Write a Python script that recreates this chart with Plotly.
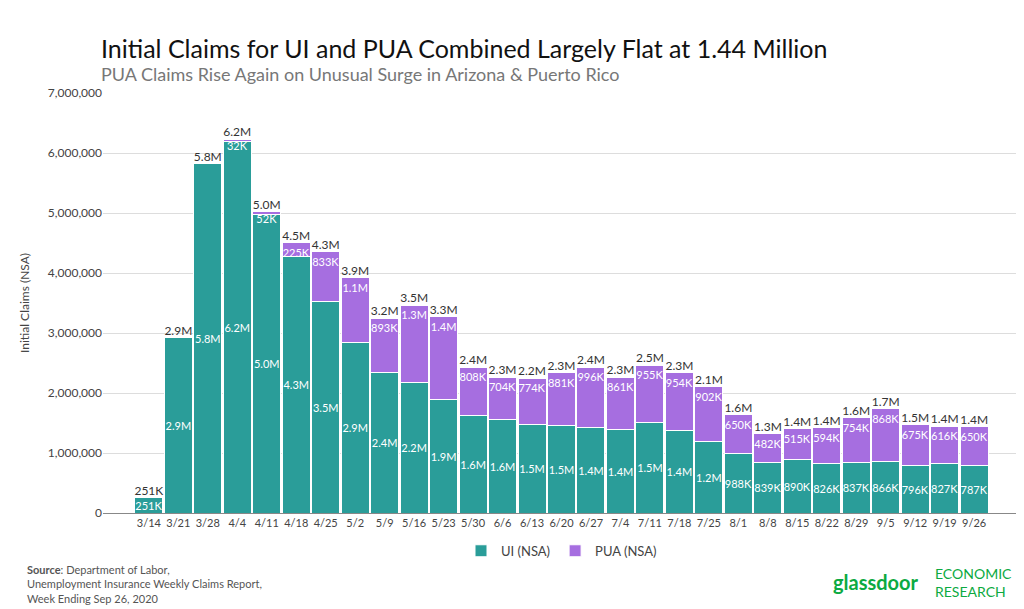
import plotly.graph_objects as go

weeks = ["3/14","3/21","3/28","4/4","4/11","4/18","4/25","5/2","5/9","5/16","5/23","5/30","6/6","6/13",
         "6/20","6/27","7/4","7/11","7/18","7/25","8/1","8/8","8/15","8/22","8/29","9/5","9/12","9/19","9/26"]
ui = [251000,2920000,5820000,6200000,4970000,4280000,3520000,2850000,2350000,2170000,1900000,1620000,1560000,
      1470000,1460000,1430000,1400000,1510000,1380000,1200000,988000,839000,890000,826000,837000,866000,796000,827000,787000]
pua = [0,0,0,32000,52000,225000,833000,1070000,893000,1290000,1370000,808000,704000,774000,881000,996000,861000,
       955000,954000,902000,650000,482000,515000,594000,754000,868000,675000,616000,650000]
ui_lbl = ["251K","2.9M","5.8M","6.2M","5.0M","4.3M","3.5M","2.9M","2.4M","2.2M","1.9M","1.6M","1.6M","1.5M","1.5M",
          "1.4M","1.4M","1.5M","1.4M","1.2M","988K","839K","890K","826K","837K","866K","796K","827K","787K"]
pua_lbl = ["","","","32K","52K","225K","833K","1.1M","893K","1.3M","1.4M","808K","704K","774K","881K","996K","861K",
           "955K","954K","902K","650K","482K","515K","594K","754K","868K","675K","616K","650K"]
tot_lbl = ["251K","2.9M","5.8M","6.2M","5.0M","4.5M","4.3M","3.9M","3.2M","3.5M","3.3M","2.4M","2.3M","2.2M","2.3M",
           "2.4M","2.3M","2.5M","2.3M","2.1M","1.6M","1.3M","1.4M","1.4M","1.6M","1.7M","1.5M","1.4M","1.4M"]
totals = [a + b for a, b in zip(ui, pua)]

fig = go.Figure()
fig.add_bar(x=weeks, y=ui, name="UI (NSA)", marker_color="#2a9d99", marker_line_color="white", marker_line_width=1,
            text=ui_lbl, textposition="inside", insidetextanchor="middle", textangle=0,
            textfont=dict(color="white", size=11))
fig.add_bar(x=weeks, y=pua, name="PUA (NSA)", marker_color="#a66ee0", marker_line_color="white", marker_line_width=1,
            text=pua_lbl, textposition="inside", insidetextanchor="end", textangle=0,
            textfont=dict(color="white", size=11))
fig.add_scatter(x=weeks, y=totals, mode="text", text=tot_lbl, textposition="top center",
                textfont=dict(color="#333", size=12), showlegend=False, hoverinfo="skip", cliponaxis=False)

fig.update_layout(
    barmode="stack", bargap=0.05, width=1024, height=609, autosize=False,
    plot_bgcolor="white", paper_bgcolor="white",
    font=dict(family="Lato", color="#444"),
    margin=dict(l=95, r=12, t=85, b=104),
    uniformtext=dict(minsize=10, mode="show"),
    legend=dict(orientation="h", x=0.5, xanchor="center", y=-0.09, yanchor="middle",
                traceorder="normal", font=dict(size=13)),
    yaxis=dict(range=[0, 7000000], dtick=1000000, tickformat=",d", gridcolor="#ddd",
               title=dict(text="Initial Claims (NSA)", font=dict(size=12)), tickfont=dict(size=12)),
    xaxis=dict(tickfont=dict(size=11), showline=True, linecolor="#888"),
)
fig.add_annotation(text="Initial Claims for UI and PUA Combined Largely Flat at 1.44 Million",
                   xref="paper", yref="paper", x=-0.004, y=1.107, xanchor="left", yanchor="middle",
                   showarrow=False, font=dict(size=25, color="#111"))
fig.add_annotation(text="PUA Claims Rise Again on Unusual Surge in Arizona & Puerto Rico",
                   xref="paper", yref="paper", x=-0.004, y=1.045, xanchor="left", yanchor="middle",
                   showarrow=False, font=dict(size=18, color="#777"))
fig.add_annotation(text="<b>Source</b>: Department of Labor,<br>Unemployment Insurance Weekly Claims Report,<br>Week Ending Sep 26, 2020",
                   xref="paper", yref="paper", x=-0.085, y=-0.115, xanchor="left", yanchor="top", align="left",
                   showarrow=False, font=dict(size=11, color="#555"))
fig.add_annotation(text="<b>glassdoor</b>", xref="paper", yref="paper", x=0.892, y=-0.165, xanchor="right",
                   yanchor="middle", showarrow=False, font=dict(size=20, color="#0caa41"))
fig.add_annotation(text="ECONOMIC<br>RESEARCH", xref="paper", yref="paper", x=0.905, y=-0.165, xanchor="left",
                   yanchor="middle", align="left", showarrow=False, font=dict(size=14, color="#0caa41"))

fig.write_html("out.html")
